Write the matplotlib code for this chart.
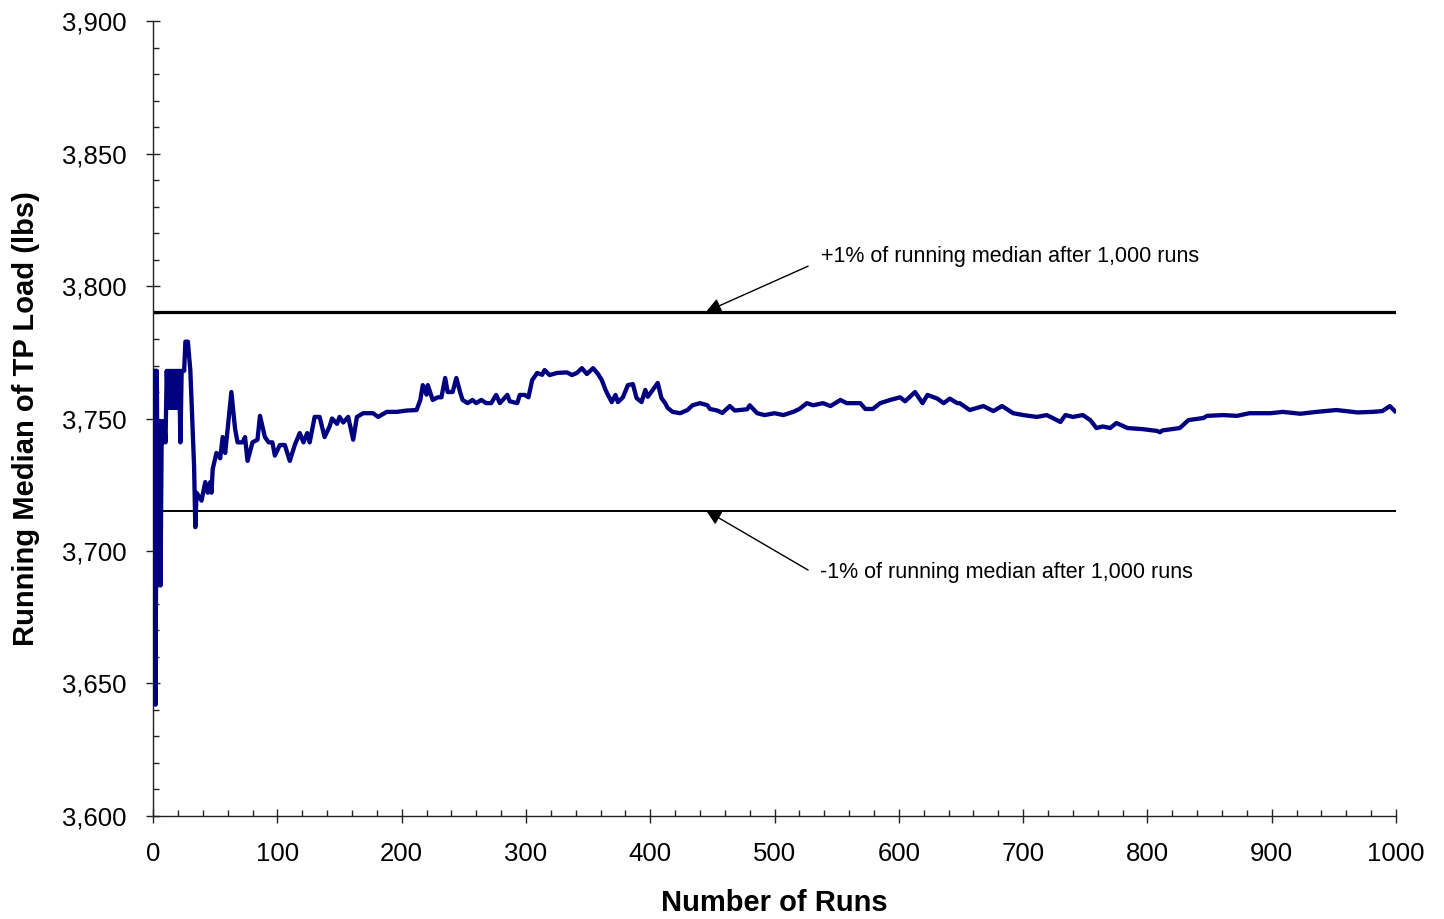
import matplotlib

matplotlib.use("Agg")
import matplotlib.pyplot as plt
import matplotlib.ticker

# running median of TP load
runs = [
    1, 2, 3, 4, 5, 6, 7, 8, 9, 10, 11, 12, 13, 14, 15, 16, 17, 18, 19, 20,
    21, 22, 23, 25, 26, 28, 30, 33, 34, 35, 39, 42, 44, 46, 47, 48, 51, 54,
    56, 58, 60, 63, 66, 68, 72, 74, 76, 80, 84, 86, 90, 93, 96, 98, 102, 106,
    110, 114, 118, 121, 124, 126, 130, 134, 138, 142, 144, 148, 150, 153,
    157, 161, 164, 169, 177, 181, 188, 196, 204, 212, 215, 217, 220, 221,
    225, 229, 232, 235, 237, 241, 244, 247, 249, 253, 257, 260, 264, 268,
    272, 276, 279, 285, 287, 293, 295, 299, 302, 305, 309, 313, 315, 319,
    325, 333, 337, 341, 345, 349, 354, 358, 361, 364, 366, 369, 372, 374,
    378, 382, 386, 389, 393, 396, 398, 402, 406, 409, 412, 414, 418, 424,
    430, 434, 440, 446, 448, 454, 458, 464, 468, 478, 480, 486, 492, 500,
    507, 515, 520, 526, 531, 539, 545, 553, 558, 569, 573, 579, 585, 593,
    601, 605, 613, 619, 623, 631, 636, 641, 647, 649, 657, 668, 676, 683,
    692, 700, 711, 719, 730, 734, 740, 748, 754, 759, 764, 770, 775, 784,
    796, 808, 810, 812, 826, 833, 845, 848, 861, 872, 882, 899, 909, 923,
    936, 952, 969, 981, 989, 995, 999,
]
running_median = [
    3768, 3642, 3768, 3687, 3749, 3687, 3749, 3741, 3749, 3741, 3768, 3754,
    3768, 3754, 3768, 3754, 3768, 3754, 3768, 3754, 3768, 3741, 3768, 3768,
    3779, 3779, 3768, 3732, 3709, 3722, 3719, 3726, 3722, 3726, 3722, 3731,
    3737, 3735, 3743, 3737, 3746, 3760, 3746, 3741, 3741, 3743, 3734, 3741,
    3742, 3751, 3743, 3741, 3741, 3736, 3740, 3740, 3734, 3740, 3744.5,
    3741, 3744.5, 3741, 3750.6, 3750.6, 3743, 3747, 3750, 3748, 3750.6,
    3748.5, 3750.6, 3742, 3750.6, 3752, 3752, 3750.6, 3752.5, 3752.5, 3753,
    3753.2, 3757, 3762.6, 3759, 3762.6, 3757, 3758, 3758, 3765.3, 3760,
    3760, 3765.3, 3760, 3757, 3755.8, 3757, 3755.8, 3757, 3755.8, 3755.8,
    3758.9, 3755.8, 3758.9, 3756.5, 3755.8, 3758.9, 3758.9, 3758, 3764.5,
    3767.2, 3766.5, 3768.3, 3766.4, 3767.2, 3767.4, 3766.4, 3767.2, 3769,
    3766.8, 3769, 3766.8, 3764.5, 3760.8, 3758.9, 3756.2, 3758.9, 3756.2,
    3758, 3762.6, 3763, 3757.7, 3756.2, 3760.8, 3758.2, 3760.8, 3763.4,
    3757.7, 3755.8, 3754, 3752.5, 3752, 3753.2, 3755, 3755.8, 3755, 3753.6,
    3753, 3752.1, 3754.7, 3753, 3753.5, 3755, 3752, 3751.3, 3752, 3751.3,
    3752.5, 3753.6, 3755.8, 3755, 3755.8, 3754.7, 3757, 3755.8, 3755.8,
    3753.6, 3753.6, 3755.8, 3757, 3758, 3756.5, 3760, 3755.8, 3758.9,
    3757.5, 3755.8, 3757.5, 3755.8, 3755.8, 3753.2, 3754.7, 3752.8, 3754.7,
    3752, 3751.3, 3750.6, 3751.3, 3748.7, 3751.3, 3750.6, 3751.3, 3749.4,
    3746.4, 3747, 3746.4, 3748.3, 3746.4, 3746, 3745.3, 3744.8, 3745.5,
    3746.4, 3749.4, 3750.2, 3751, 3751.3, 3751, 3752, 3752, 3752.5, 3751.8,
    3752.5, 3753.2, 3752.3, 3752.5, 3752.8, 3754.7, 3752.8,
]
final_median = 3752.8
upper_band = final_median * 1.01
lower_band = final_median * 0.99

upper_label = "+1% of running median after 1,000 runs"
lower_label = "-1% of running median after 1,000 runs"

plt.rcParams["font.family"] = ["Liberation Sans", "DejaVu Sans"]

fig = plt.figure(figsize=(14.44, 9.19), dpi=100)
ax = fig.add_axes([0.106, 0.1121, 0.8608, 0.865])

ax.plot([0, 1000], [upper_band, upper_band], color="black", linewidth=2.3)
ax.plot([0, 1000], [lower_band, lower_band], color="black", linewidth=1.4)
ax.plot(runs, running_median, color="#000080", linewidth=3.1,
        solid_joinstyle="round", zorder=3)

arrow_style = dict(arrowstyle="-|>,head_length=0.9,head_width=0.45",
                   color="black", linewidth=1.0, shrinkA=0, shrinkB=0)
ax.annotate("", xy=(445, upper_band), xytext=(527, 3807.5),
            arrowprops=arrow_style)
ax.annotate("", xy=(445, lower_band), xytext=(527, 3692.8),
            arrowprops=arrow_style)
ax.text(537.5, 3811.3, upper_label, fontsize=15.5, va="center", ha="left")
ax.text(536.5, 3692.0, lower_label, fontsize=15.5, va="center", ha="left")

ax.set_xlim(0, 1000)
ax.set_ylim(3600, 3900)
ax.xaxis.set_major_locator(matplotlib.ticker.MultipleLocator(100))
ax.xaxis.set_minor_locator(matplotlib.ticker.MultipleLocator(20))
ax.yaxis.set_major_locator(matplotlib.ticker.MultipleLocator(50))
ax.yaxis.set_minor_locator(matplotlib.ticker.MultipleLocator(10))
ax.yaxis.set_major_formatter(matplotlib.ticker.StrMethodFormatter("{x:,.0f}"))

for side in ["top", "right"]:
    ax.spines[side].set_visible(False)
for side in ["left", "bottom"]:
    ax.spines[side].set_linewidth(1.0)
    ax.spines[side].set_color("#222222")

ax.tick_params(which="major", direction="inout", length=10, width=1.0,
               labelsize=18.5, color="#222222")
ax.tick_params(which="minor", direction="in", length=4.5, width=1.0,
               color="#222222")
ax.tick_params(axis="x", which="major", pad=14)
ax.tick_params(axis="y", which="major", pad=14)

ax.set_xlabel("Number of Runs", fontsize=21, fontweight="bold", labelpad=16)
ax.set_ylabel("Running Median of TP Load (lbs)", fontsize=21,
              fontweight="bold", labelpad=16)

fig.savefig("out.png", dpi=100)
